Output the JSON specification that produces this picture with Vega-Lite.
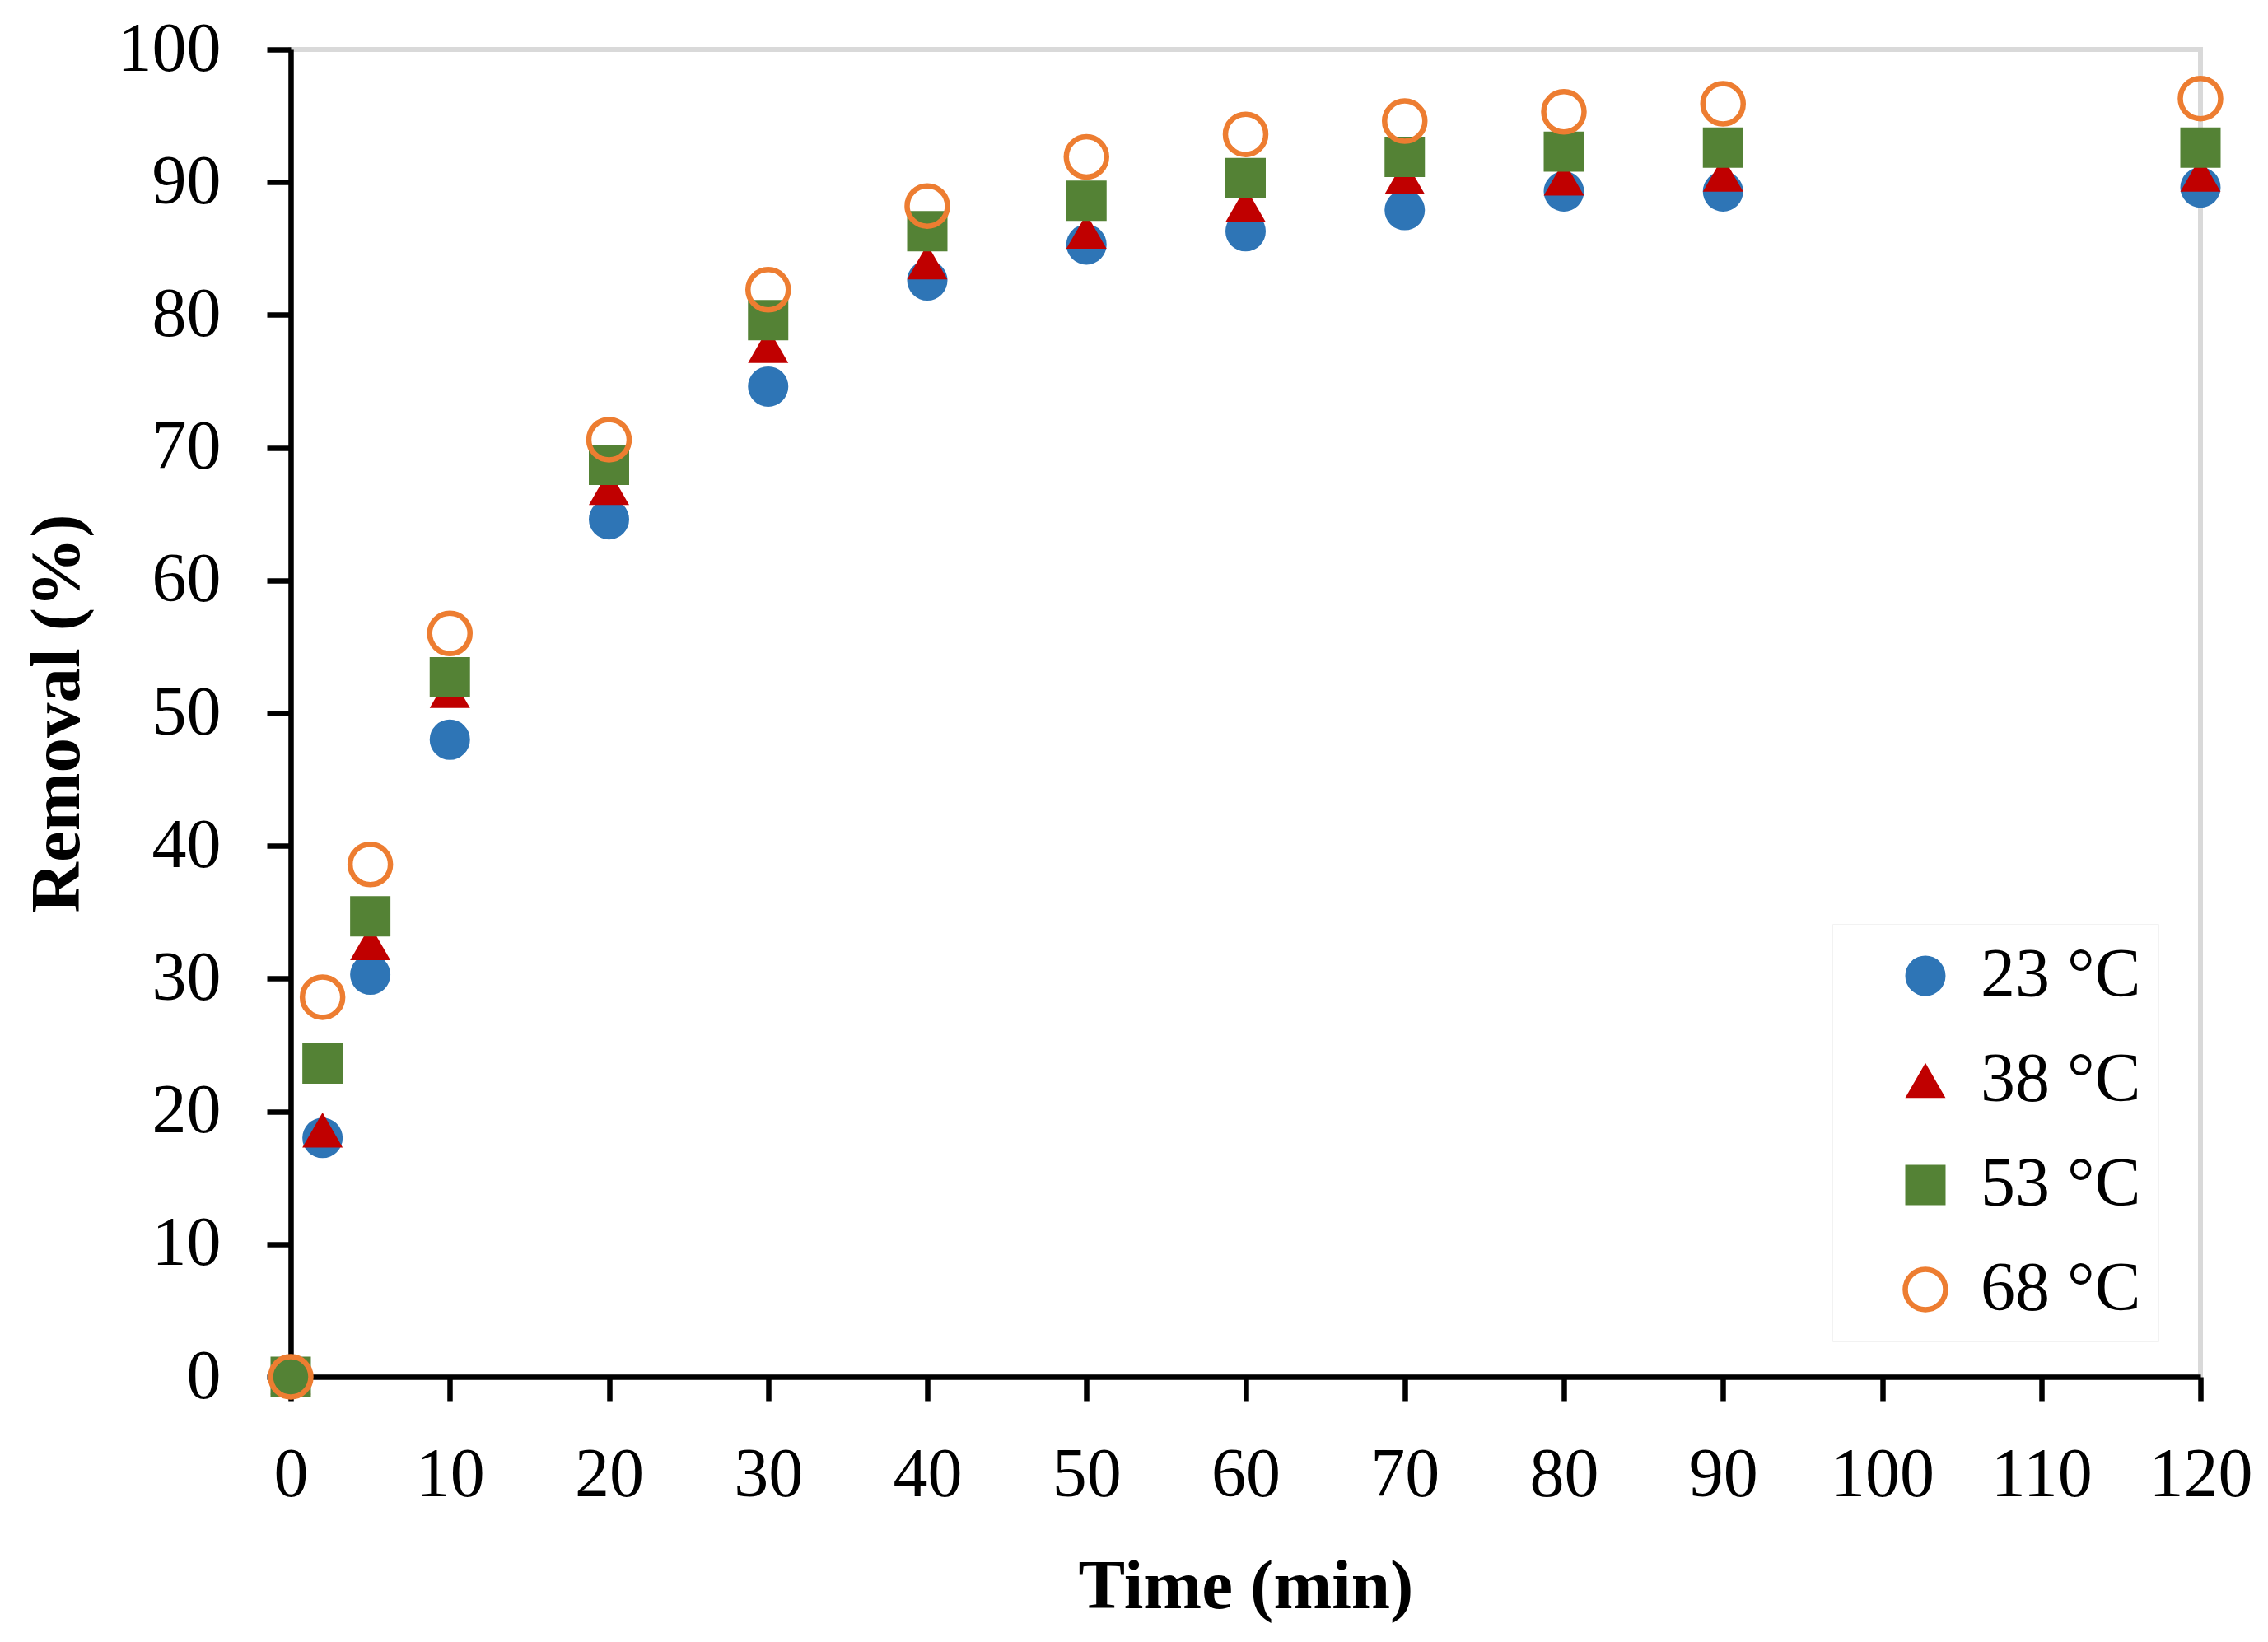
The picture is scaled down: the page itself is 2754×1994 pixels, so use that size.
{
  "$schema": "https://vega.github.io/schema/vega-lite/v6.json",
  "width": 2319,
  "height": 1612,
  "autosize": "none",
  "padding": {"left": 353, "top": 60, "right": 82, "bottom": 322},
  "background": "white",
  "config": {
    "view": {"stroke": "#d9d9d9", "strokeWidth": 6},
    "font": "Liberation Serif",
    "axis": {
      "grid": false,
      "domainColor": "black",
      "domainWidth": 6.5,
      "tickColor": "black",
      "tickWidth": 6.5,
      "tickSize": 29,
      "labelFont": "Liberation Serif",
      "labelFontSize": 84,
      "labelColor": "black",
      "labelFlush": false,
      "labelOverlap": false,
      "titleFont": "Liberation Serif",
      "titleFontSize": 85,
      "titleFontWeight": "bold",
      "titleColor": "black"
    }
  },
  "data": {
    "values": [
      {"time": 0, "removal": 0, "series": "23 °C"},
      {"time": 2, "removal": 18.0, "series": "23 °C"},
      {"time": 5, "removal": 30.3, "series": "23 °C"},
      {"time": 10, "removal": 48.0, "series": "23 °C"},
      {"time": 20, "removal": 64.6, "series": "23 °C"},
      {"time": 30, "removal": 74.6, "series": "23 °C"},
      {"time": 40, "removal": 82.6, "series": "23 °C"},
      {"time": 50, "removal": 85.3, "series": "23 °C"},
      {"time": 60, "removal": 86.3, "series": "23 °C"},
      {"time": 70, "removal": 87.9, "series": "23 °C"},
      {"time": 80, "removal": 89.3, "series": "23 °C"},
      {"time": 90, "removal": 89.3, "series": "23 °C"},
      {"time": 120, "removal": 89.6, "series": "23 °C"},
      {"time": 0, "removal": 0, "series": "38 °C"},
      {"time": 2, "removal": 18.6, "series": "38 °C"},
      {"time": 5, "removal": 32.7, "series": "38 °C"},
      {"time": 10, "removal": 51.7, "series": "38 °C"},
      {"time": 20, "removal": 67.0, "series": "38 °C"},
      {"time": 30, "removal": 77.7, "series": "38 °C"},
      {"time": 40, "removal": 84.0, "series": "38 °C"},
      {"time": 50, "removal": 86.3, "series": "38 °C"},
      {"time": 60, "removal": 88.3, "series": "38 °C"},
      {"time": 70, "removal": 90.4, "series": "38 °C"},
      {"time": 80, "removal": 90.3, "series": "38 °C"},
      {"time": 90, "removal": 90.6, "series": "38 °C"},
      {"time": 120, "removal": 90.6, "series": "38 °C"},
      {"time": 0, "removal": 0, "series": "53 °C"},
      {"time": 2, "removal": 23.6, "series": "53 °C"},
      {"time": 5, "removal": 34.7, "series": "53 °C"},
      {"time": 10, "removal": 52.7, "series": "53 °C"},
      {"time": 20, "removal": 68.7, "series": "53 °C"},
      {"time": 30, "removal": 79.6, "series": "53 °C"},
      {"time": 40, "removal": 86.3, "series": "53 °C"},
      {"time": 50, "removal": 88.6, "series": "53 °C"},
      {"time": 60, "removal": 90.3, "series": "53 °C"},
      {"time": 70, "removal": 91.9, "series": "53 °C"},
      {"time": 80, "removal": 92.3, "series": "53 °C"},
      {"time": 90, "removal": 92.6, "series": "53 °C"},
      {"time": 120, "removal": 92.6, "series": "53 °C"},
      {"time": 0, "removal": 0, "series": "68 °C"},
      {"time": 2, "removal": 28.6, "series": "68 °C"},
      {"time": 5, "removal": 38.6, "series": "68 °C"},
      {"time": 10, "removal": 56.0, "series": "68 °C"},
      {"time": 20, "removal": 70.6, "series": "68 °C"},
      {"time": 30, "removal": 81.9, "series": "68 °C"},
      {"time": 40, "removal": 88.2, "series": "68 °C"},
      {"time": 50, "removal": 91.9, "series": "68 °C"},
      {"time": 60, "removal": 93.6, "series": "68 °C"},
      {"time": 70, "removal": 94.6, "series": "68 °C"},
      {"time": 80, "removal": 95.3, "series": "68 °C"},
      {"time": 90, "removal": 95.9, "series": "68 °C"},
      {"time": 120, "removal": 96.3, "series": "68 °C"}
    ]
  },
  "mark": {"type": "point", "filled": false, "strokeWidth": 6.5, "opacity": 1, "clip": false},
  "encoding": {
    "x": {
      "field": "time",
      "type": "quantitative",
      "scale": {"domain": [0, 120], "nice": false, "zero": false},
      "axis": {
        "title": "Time (min)",
        "values": [0, 10, 20, 30, 40, 50, 60, 70, 80, 90, 100, 110, 120],
        "labelPadding": 49,
        "titlePadding": 52
      }
    },
    "y": {
      "field": "removal",
      "type": "quantitative",
      "scale": {"domain": [0, 100], "nice": false},
      "axis": {
        "title": "Removal (%)",
        "values": [0, 10, 20, 30, 40, 50, 60, 70, 80, 90, 100],
        "labelPadding": 56,
        "titlePadding": 40
      }
    },
    "shape": {
      "field": "series",
      "type": "nominal",
      "scale": {
        "domain": ["23 °C", "38 °C", "53 °C", "68 °C"],
        "range": ["circle", "triangle-up", "square", "circle"]
      },
      "legend": null
    },
    "fill": {
      "field": "series",
      "type": "nominal",
      "scale": {
        "domain": ["23 °C", "38 °C", "53 °C", "68 °C"],
        "range": ["#2e75b6", "#c00000", "#548235", "transparent"]
      },
      "legend": null
    },
    "stroke": {
      "field": "series",
      "type": "nominal",
      "scale": {
        "domain": ["23 °C", "38 °C", "53 °C", "68 °C"],
        "range": ["transparent", "transparent", "transparent", "#ed7d31"]
      },
      "legend": null
    },
    "size": {
      "field": "series",
      "type": "nominal",
      "scale": {
        "domain": ["23 °C", "38 °C", "53 °C", "68 °C"],
        "range": [2400, 2400, 2400, 1800]
      },
      "legend": {
        "title": null,
        "orient": "none",
        "legendX": 1872,
        "legendY": 1062,
        "padding": 21,
        "strokeColor": "#f2f2f2",
        "symbolType": "circle",
        "symbolOffset": 50,
        "symbolStrokeWidth": 6.5,
        "labelFont": "Liberation Serif",
        "labelFontSize": 84,
        "labelColor": "black",
        "labelLimit": 600,
        "labelOffset": 25,
        "rowPadding": 43,
        "labelExpr": "datum.label + '\u2002'",
        "encode": {
          "legend": {"update": {"strokeWidth": {"value": 6.5}}},
          "symbols": {
            "update": {
              "shape": {"scale": "shape", "field": "value"},
              "fill": {"scale": "fill", "field": "value"},
              "stroke": {"scale": "stroke", "field": "value"}
            }
          }
        }
      }
    }
  }
}
